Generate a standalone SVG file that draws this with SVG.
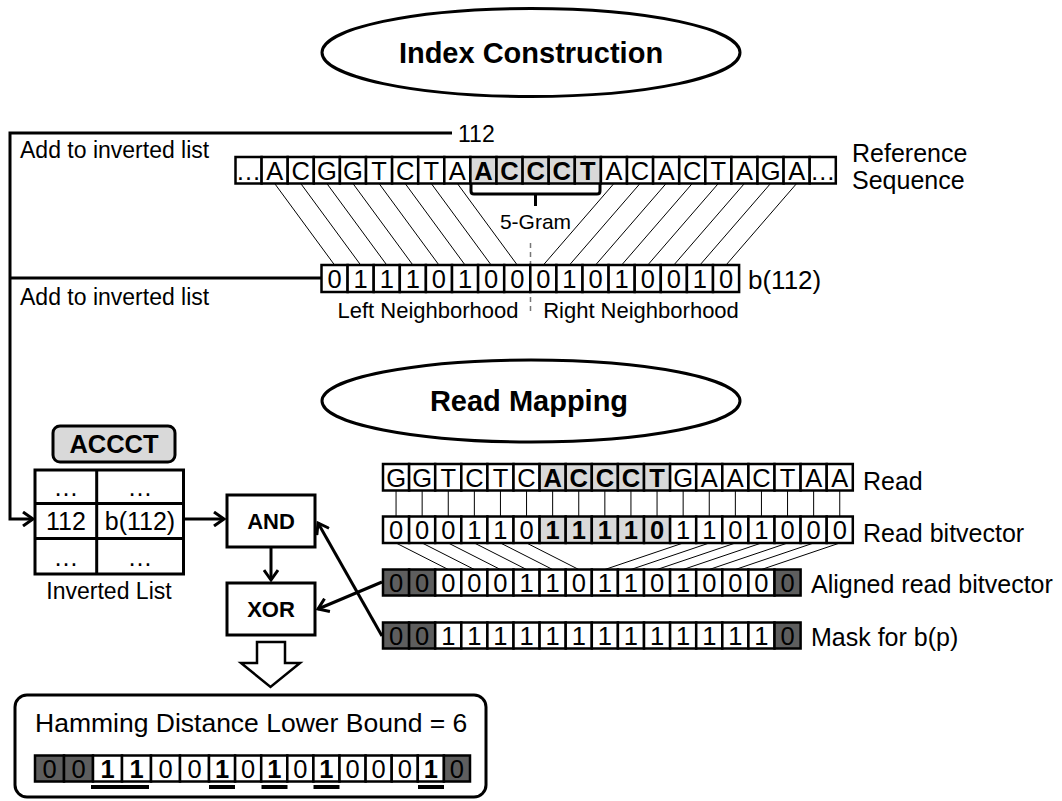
<svg xmlns="http://www.w3.org/2000/svg" width="1062" height="801" viewBox="0 0 1062 801">
  <style>
    text { font-family: "Liberation Sans", Arial, sans-serif; fill: #000; }
    .cell { fill: #fff; stroke: #000; stroke-width: 2.5; }
    .hl { fill: #d9d9d9; stroke: #000; stroke-width: 2.5; }
    .dk { fill: #5e5e5e; stroke: #000; stroke-width: 2.5; }
    .ct { font-size: 25.5px; text-anchor: middle; }
    .bt { font-size: 25.5px; text-anchor: middle; font-weight: bold; }
    .lbl { font-size: 25px; }
    .title { font-size: 29px; font-weight: bold; text-anchor: middle; }
    .thin { stroke: #000; stroke-width: 1; fill: none; }
    .thick { stroke: #000; stroke-width: 3; fill: none; }
    .box { fill: #fff; stroke: #000; stroke-width: 3; }
    .op { font-size: 22px; font-weight: bold; text-anchor: middle; }
    .tb { font-size: 25px; text-anchor: middle; }
    .ul { stroke: #000; stroke-width: 4; }
  </style>
  <defs>
    <marker id="arr" markerUnits="userSpaceOnUse" markerWidth="14" markerHeight="16" refX="11" refY="8" orient="auto">
      <path d="M1,1 L11,8 L1,15" fill="none" stroke="#000" stroke-width="3"/>
    </marker>
  </defs>

  <!-- section titles -->
  <g id="title-index">
    <ellipse cx="531" cy="52.5" rx="209" ry="44" fill="#fff" stroke="#000" stroke-width="3"/>
    <text class="title" x="531" y="63">Index Construction</text>
  </g>
  <g id="title-read">
    <ellipse cx="531" cy="401" rx="209" ry="41" fill="#fff" stroke="#000" stroke-width="3"/>
    <text class="title" x="529" y="411">Read Mapping</text>
  </g>

  <!-- connectors -->
  <g id="connectors">
    <!-- reference sequence to b(112) -->
    <path class="thin" d="M274.65,183.5 L334.55,265 M300.75,183.5 L360.65,265 M326.85,183.5 L386.75,265 M352.95,183.5 L412.85,265 M379.05,183.5 L438.95,265 M405.15,183.5 L465.05,265 M431.25,183.5 L491.15,265 M457.35,183.5 L517.25,265"/>
    <path class="thin" d="M613.95,183.5 L543.35,265 M640.05,183.5 L569.45,265 M666.15,183.5 L595.55,265 M692.25,183.5 L621.65,265 M718.35,183.5 L647.75,265 M744.45,183.5 L673.85,265 M770.55,183.5 L699.95,265 M796.65,183.5 L726.05,265"/>
    <!-- neighborhood divider -->
    <path d="M530.5,243 V313" stroke="#777" stroke-width="1.5" stroke-dasharray="5,4" fill="none"/>
    <!-- 5-gram brace -->
    <path class="thick" d="M471,184 V191 Q471,194 474,194 H597 Q600,194 600,191 V184 M535.5,194 V206"/>
    <!-- add to inverted list -->
    <path class="thick" d="M452,133 H10 V519 H33" marker-end="url(#arr)"/>
    <path class="thick" d="M10,278 H321.5"/>
    <!-- read to read bitvector -->
    <path class="thin" d="M396.05,490.5 V516.5 M422.15,490.5 V516.5 M448.25,490.5 V516.5 M474.35,490.5 V516.5 M500.45,490.5 V516.5 M526.55,490.5 V516.5 M552.65,490.5 V516.5 M578.75,490.5 V516.5 M604.85,490.5 V516.5 M630.95,490.5 V516.5 M657.05,490.5 V516.5 M683.15,490.5 V516.5 M709.25,490.5 V516.5 M735.35,490.5 V516.5 M761.45,490.5 V516.5 M787.55,490.5 V516.5 M813.65,490.5 V516.5 M839.75,490.5 V516.5"/>
    <!-- read bitvector to aligned read bitvector -->
    <path class="thin" d="M396.05,543 L448.25,569.5 M422.15,543 L474.35,569.5 M448.25,543 L500.45,569.5 M474.35,543 L526.55,569.5 M500.45,543 L552.65,569.5 M526.55,543 L578.75,569.5"/>
    <path class="thin" d="M683.15,543 L604.85,569.5 M709.25,543 L630.95,569.5 M735.35,543 L657.05,569.5 M761.45,543 L683.15,569.5 M787.55,543 L709.25,569.5 M813.65,543 L735.35,569.5 M839.75,543 L761.45,569.5"/>
    <!-- inverted list entry to AND -->
    <path class="thick" d="M183.5,519 H224" marker-end="url(#arr)"/>
    <!-- AND to XOR -->
    <path class="thick" d="M271,547 V580" marker-end="url(#arr)"/>
    <!-- aligned read bitvector to XOR -->
    <path class="thick" d="M382,582 L318,609" marker-end="url(#arr)"/>
    <!-- mask to AND -->
    <path class="thick" d="M382,636 L318,523" marker-end="url(#arr)"/>
    <!-- result arrow -->
    <path d="M257,642 H285 V663 H300 L270.5,687 L241,663 H257 Z" fill="#fff" stroke="#000" stroke-width="2.5"/>
  </g>

  <!-- reference sequence -->
  <g id="reference-sequence">
    <rect class="cell" x="235.5" y="157" width="26.1" height="26.5"/>
    <rect class="cell" x="261.6" y="157" width="26.1" height="26.5"/>
    <rect class="cell" x="287.7" y="157" width="26.1" height="26.5"/>
    <rect class="cell" x="313.8" y="157" width="26.1" height="26.5"/>
    <rect class="cell" x="339.9" y="157" width="26.1" height="26.5"/>
    <rect class="cell" x="366.0" y="157" width="26.1" height="26.5"/>
    <rect class="cell" x="392.1" y="157" width="26.1" height="26.5"/>
    <rect class="cell" x="418.2" y="157" width="26.1" height="26.5"/>
    <rect class="cell" x="444.3" y="157" width="26.1" height="26.5"/>
    <rect class="hl" x="470.4" y="157" width="26.1" height="26.5"/>
    <rect class="hl" x="496.5" y="157" width="26.1" height="26.5"/>
    <rect class="hl" x="522.6" y="157" width="26.1" height="26.5"/>
    <rect class="hl" x="548.7" y="157" width="26.1" height="26.5"/>
    <rect class="hl" x="574.8" y="157" width="26.1" height="26.5"/>
    <rect class="cell" x="600.9" y="157" width="26.1" height="26.5"/>
    <rect class="cell" x="627.0" y="157" width="26.1" height="26.5"/>
    <rect class="cell" x="653.1" y="157" width="26.1" height="26.5"/>
    <rect class="cell" x="679.2" y="157" width="26.1" height="26.5"/>
    <rect class="cell" x="705.3" y="157" width="26.1" height="26.5"/>
    <rect class="cell" x="731.4" y="157" width="26.1" height="26.5"/>
    <rect class="cell" x="757.5" y="157" width="26.1" height="26.5"/>
    <rect class="cell" x="783.6" y="157" width="26.1" height="26.5"/>
    <rect class="cell" x="809.7" y="157" width="26.1" height="26.5"/>
    <text class="ct" x="248.55" y="179.5">…</text>
    <text class="ct" x="274.65" y="179.5">A</text>
    <text class="ct" x="300.75" y="179.5">C</text>
    <text class="ct" x="326.85" y="179.5">G</text>
    <text class="ct" x="352.95" y="179.5">G</text>
    <text class="ct" x="379.05" y="179.5">T</text>
    <text class="ct" x="405.15" y="179.5">C</text>
    <text class="ct" x="431.25" y="179.5">T</text>
    <text class="ct" x="457.35" y="179.5">A</text>
    <text class="bt" x="483.45" y="179.5">A</text>
    <text class="bt" x="509.55" y="179.5">C</text>
    <text class="bt" x="535.65" y="179.5">C</text>
    <text class="bt" x="561.75" y="179.5">C</text>
    <text class="bt" x="587.85" y="179.5">T</text>
    <text class="ct" x="613.95" y="179.5">A</text>
    <text class="ct" x="640.05" y="179.5">C</text>
    <text class="ct" x="666.15" y="179.5">A</text>
    <text class="ct" x="692.25" y="179.5">C</text>
    <text class="ct" x="718.35" y="179.5">T</text>
    <text class="ct" x="744.45" y="179.5">A</text>
    <text class="ct" x="770.55" y="179.5">G</text>
    <text class="ct" x="796.65" y="179.5">A</text>
    <text class="ct" x="822.75" y="179.5">…</text>
    <text class="lbl" x="852" y="162">Reference</text>
    <text class="lbl" x="852" y="189">Sequence</text>
    <text x="535.5" y="229" style="font-size:21px" text-anchor="middle">5-Gram</text>
  </g>

  <g id="index-labels">
    <text class="lbl" x="458" y="142" style="font-size:23px">112</text>
    <text class="lbl" x="20" y="158" style="font-size:23px">Add to inverted list</text>
    <text class="lbl" x="20" y="305" style="font-size:23px">Add to inverted list</text>
  </g>

  <!-- bitvector of position 112 -->
  <g id="bitvector-112">
    <rect class="cell" x="321.5" y="265" width="26.1" height="27"/>
    <rect class="cell" x="347.6" y="265" width="26.1" height="27"/>
    <rect class="cell" x="373.7" y="265" width="26.1" height="27"/>
    <rect class="cell" x="399.8" y="265" width="26.1" height="27"/>
    <rect class="cell" x="425.9" y="265" width="26.1" height="27"/>
    <rect class="cell" x="452.0" y="265" width="26.1" height="27"/>
    <rect class="cell" x="478.1" y="265" width="26.1" height="27"/>
    <rect class="cell" x="504.2" y="265" width="26.1" height="27"/>
    <rect class="cell" x="530.3" y="265" width="26.1" height="27"/>
    <rect class="cell" x="556.4" y="265" width="26.1" height="27"/>
    <rect class="cell" x="582.5" y="265" width="26.1" height="27"/>
    <rect class="cell" x="608.6" y="265" width="26.1" height="27"/>
    <rect class="cell" x="634.7" y="265" width="26.1" height="27"/>
    <rect class="cell" x="660.8" y="265" width="26.1" height="27"/>
    <rect class="cell" x="686.9" y="265" width="26.1" height="27"/>
    <rect class="cell" x="713.0" y="265" width="26.1" height="27"/>
    <text class="ct" x="334.55" y="287.5">0</text>
    <text class="ct" x="360.65" y="287.5">1</text>
    <text class="ct" x="386.75" y="287.5">1</text>
    <text class="ct" x="412.85" y="287.5">1</text>
    <text class="ct" x="438.95" y="287.5">0</text>
    <text class="ct" x="465.05" y="287.5">1</text>
    <text class="ct" x="491.15" y="287.5">0</text>
    <text class="ct" x="517.25" y="287.5">0</text>
    <text class="ct" x="543.35" y="287.5">0</text>
    <text class="ct" x="569.45" y="287.5">1</text>
    <text class="ct" x="595.55" y="287.5">0</text>
    <text class="ct" x="621.65" y="287.5">1</text>
    <text class="ct" x="647.75" y="287.5">0</text>
    <text class="ct" x="673.85" y="287.5">0</text>
    <text class="ct" x="699.95" y="287.5">1</text>
    <text class="ct" x="726.05" y="287.5">0</text>
    <text class="lbl" x="748" y="289" style="font-size:26px">b(112)</text>
    <text x="428" y="318" style="font-size:22px" text-anchor="middle">Left Neighborhood</text>
    <text x="641" y="318" style="font-size:22px" text-anchor="middle">Right Neighborhood</text>
  </g>

  <!-- inverted list -->
  <g id="inverted-list">
    <rect x="53" y="426" width="122" height="36" rx="7" fill="#d9d9d9" stroke="#000" stroke-width="3"/>
    <text class="bt" x="114" y="452.5">ACCCT</text>
    <rect class="box" x="35" y="470" width="148.5" height="104"/>
    <path class="thick" d="M96.7,470 V574 M35,503.5 H183.5 M35,538.5 H183.5"/>
    <text class="tb" x="66" y="496">…</text>
    <text class="tb" x="140" y="496">…</text>
    <text class="tb" x="66" y="530">112</text>
    <text class="tb" x="140" y="530">b(112)</text>
    <text class="tb" x="66" y="566">…</text>
    <text class="tb" x="140" y="566">…</text>
    <text x="109" y="599" style="font-size:23px" text-anchor="middle">Inverted List</text>
  </g>

  <g id="and-op">
    <rect class="box" x="227" y="495" width="88" height="52"/>
    <text class="op" x="271" y="528.5">AND</text>
  </g>
  <g id="xor-op">
    <rect class="box" x="227" y="583" width="88" height="52"/>
    <text class="op" x="271" y="616.5">XOR</text>
  </g>

  <!-- read -->
  <g id="read">
    <rect class="cell" x="383.0" y="464" width="26.1" height="26.5"/>
    <rect class="cell" x="409.1" y="464" width="26.1" height="26.5"/>
    <rect class="cell" x="435.2" y="464" width="26.1" height="26.5"/>
    <rect class="cell" x="461.3" y="464" width="26.1" height="26.5"/>
    <rect class="cell" x="487.4" y="464" width="26.1" height="26.5"/>
    <rect class="cell" x="513.5" y="464" width="26.1" height="26.5"/>
    <rect class="hl" x="539.6" y="464" width="26.1" height="26.5"/>
    <rect class="hl" x="565.7" y="464" width="26.1" height="26.5"/>
    <rect class="hl" x="591.8" y="464" width="26.1" height="26.5"/>
    <rect class="hl" x="617.9" y="464" width="26.1" height="26.5"/>
    <rect class="hl" x="644.0" y="464" width="26.1" height="26.5"/>
    <rect class="cell" x="670.1" y="464" width="26.1" height="26.5"/>
    <rect class="cell" x="696.2" y="464" width="26.1" height="26.5"/>
    <rect class="cell" x="722.3" y="464" width="26.1" height="26.5"/>
    <rect class="cell" x="748.4" y="464" width="26.1" height="26.5"/>
    <rect class="cell" x="774.5" y="464" width="26.1" height="26.5"/>
    <rect class="cell" x="800.6" y="464" width="26.1" height="26.5"/>
    <rect class="cell" x="826.7" y="464" width="26.1" height="26.5"/>
    <text class="ct" x="396.05" y="486.5">G</text>
    <text class="ct" x="422.15" y="486.5">G</text>
    <text class="ct" x="448.25" y="486.5">T</text>
    <text class="ct" x="474.35" y="486.5">C</text>
    <text class="ct" x="500.45" y="486.5">T</text>
    <text class="ct" x="526.55" y="486.5">C</text>
    <text class="bt" x="552.65" y="486.5">A</text>
    <text class="bt" x="578.75" y="486.5">C</text>
    <text class="bt" x="604.85" y="486.5">C</text>
    <text class="bt" x="630.95" y="486.5">C</text>
    <text class="bt" x="657.05" y="486.5">T</text>
    <text class="ct" x="683.15" y="486.5">G</text>
    <text class="ct" x="709.25" y="486.5">A</text>
    <text class="ct" x="735.35" y="486.5">A</text>
    <text class="ct" x="761.45" y="486.5">C</text>
    <text class="ct" x="787.55" y="486.5">T</text>
    <text class="ct" x="813.65" y="486.5">A</text>
    <text class="ct" x="839.75" y="486.5">A</text>
    <text class="lbl" x="863" y="490">Read</text>
  </g>

  <g id="read-bitvector">
    <rect class="cell" x="383.0" y="516.5" width="26.1" height="26.5"/>
    <rect class="cell" x="409.1" y="516.5" width="26.1" height="26.5"/>
    <rect class="cell" x="435.2" y="516.5" width="26.1" height="26.5"/>
    <rect class="cell" x="461.3" y="516.5" width="26.1" height="26.5"/>
    <rect class="cell" x="487.4" y="516.5" width="26.1" height="26.5"/>
    <rect class="cell" x="513.5" y="516.5" width="26.1" height="26.5"/>
    <rect class="hl" x="539.6" y="516.5" width="26.1" height="26.5"/>
    <rect class="hl" x="565.7" y="516.5" width="26.1" height="26.5"/>
    <rect class="hl" x="591.8" y="516.5" width="26.1" height="26.5"/>
    <rect class="hl" x="617.9" y="516.5" width="26.1" height="26.5"/>
    <rect class="hl" x="644.0" y="516.5" width="26.1" height="26.5"/>
    <rect class="cell" x="670.1" y="516.5" width="26.1" height="26.5"/>
    <rect class="cell" x="696.2" y="516.5" width="26.1" height="26.5"/>
    <rect class="cell" x="722.3" y="516.5" width="26.1" height="26.5"/>
    <rect class="cell" x="748.4" y="516.5" width="26.1" height="26.5"/>
    <rect class="cell" x="774.5" y="516.5" width="26.1" height="26.5"/>
    <rect class="cell" x="800.6" y="516.5" width="26.1" height="26.5"/>
    <rect class="cell" x="826.7" y="516.5" width="26.1" height="26.5"/>
    <text class="ct" x="396.05" y="539">0</text>
    <text class="ct" x="422.15" y="539">0</text>
    <text class="ct" x="448.25" y="539">0</text>
    <text class="ct" x="474.35" y="539">1</text>
    <text class="ct" x="500.45" y="539">1</text>
    <text class="ct" x="526.55" y="539">0</text>
    <text class="bt" x="552.65" y="539">1</text>
    <text class="bt" x="578.75" y="539">1</text>
    <text class="bt" x="604.85" y="539">1</text>
    <text class="bt" x="630.95" y="539">1</text>
    <text class="bt" x="657.05" y="539">0</text>
    <text class="ct" x="683.15" y="539">1</text>
    <text class="ct" x="709.25" y="539">1</text>
    <text class="ct" x="735.35" y="539">0</text>
    <text class="ct" x="761.45" y="539">1</text>
    <text class="ct" x="787.55" y="539">0</text>
    <text class="ct" x="813.65" y="539">0</text>
    <text class="ct" x="839.75" y="539">0</text>
    <text class="lbl" x="863" y="542">Read bitvector</text>
  </g>

  <g id="aligned-read-bitvector">
    <rect class="dk" x="383.0" y="569.5" width="26.1" height="26"/>
    <rect class="dk" x="409.1" y="569.5" width="26.1" height="26"/>
    <rect class="cell" x="435.2" y="569.5" width="26.1" height="26"/>
    <rect class="cell" x="461.3" y="569.5" width="26.1" height="26"/>
    <rect class="cell" x="487.4" y="569.5" width="26.1" height="26"/>
    <rect class="cell" x="513.5" y="569.5" width="26.1" height="26"/>
    <rect class="cell" x="539.6" y="569.5" width="26.1" height="26"/>
    <rect class="cell" x="565.7" y="569.5" width="26.1" height="26"/>
    <rect class="cell" x="591.8" y="569.5" width="26.1" height="26"/>
    <rect class="cell" x="617.9" y="569.5" width="26.1" height="26"/>
    <rect class="cell" x="644.0" y="569.5" width="26.1" height="26"/>
    <rect class="cell" x="670.1" y="569.5" width="26.1" height="26"/>
    <rect class="cell" x="696.2" y="569.5" width="26.1" height="26"/>
    <rect class="cell" x="722.3" y="569.5" width="26.1" height="26"/>
    <rect class="cell" x="748.4" y="569.5" width="26.1" height="26"/>
    <rect class="dk" x="774.5" y="569.5" width="26.1" height="26"/>
    <text class="ct" x="396.05" y="591.5">0</text>
    <text class="ct" x="422.15" y="591.5">0</text>
    <text class="ct" x="448.25" y="591.5">0</text>
    <text class="ct" x="474.35" y="591.5">0</text>
    <text class="ct" x="500.45" y="591.5">0</text>
    <text class="ct" x="526.55" y="591.5">1</text>
    <text class="ct" x="552.65" y="591.5">1</text>
    <text class="ct" x="578.75" y="591.5">0</text>
    <text class="ct" x="604.85" y="591.5">1</text>
    <text class="ct" x="630.95" y="591.5">1</text>
    <text class="ct" x="657.05" y="591.5">0</text>
    <text class="ct" x="683.15" y="591.5">1</text>
    <text class="ct" x="709.25" y="591.5">0</text>
    <text class="ct" x="735.35" y="591.5">0</text>
    <text class="ct" x="761.45" y="591.5">0</text>
    <text class="ct" x="787.55" y="591.5">0</text>
    <text class="lbl" x="811" y="593">Aligned read bitvector</text>
  </g>

  <g id="mask">
    <rect class="dk" x="383.0" y="622.5" width="26.1" height="26"/>
    <rect class="dk" x="409.1" y="622.5" width="26.1" height="26"/>
    <rect class="cell" x="435.2" y="622.5" width="26.1" height="26"/>
    <rect class="cell" x="461.3" y="622.5" width="26.1" height="26"/>
    <rect class="cell" x="487.4" y="622.5" width="26.1" height="26"/>
    <rect class="cell" x="513.5" y="622.5" width="26.1" height="26"/>
    <rect class="cell" x="539.6" y="622.5" width="26.1" height="26"/>
    <rect class="cell" x="565.7" y="622.5" width="26.1" height="26"/>
    <rect class="cell" x="591.8" y="622.5" width="26.1" height="26"/>
    <rect class="cell" x="617.9" y="622.5" width="26.1" height="26"/>
    <rect class="cell" x="644.0" y="622.5" width="26.1" height="26"/>
    <rect class="cell" x="670.1" y="622.5" width="26.1" height="26"/>
    <rect class="cell" x="696.2" y="622.5" width="26.1" height="26"/>
    <rect class="cell" x="722.3" y="622.5" width="26.1" height="26"/>
    <rect class="cell" x="748.4" y="622.5" width="26.1" height="26"/>
    <rect class="dk" x="774.5" y="622.5" width="26.1" height="26"/>
    <text class="ct" x="396.05" y="644.5">0</text>
    <text class="ct" x="422.15" y="644.5">0</text>
    <text class="ct" x="448.25" y="644.5">1</text>
    <text class="ct" x="474.35" y="644.5">1</text>
    <text class="ct" x="500.45" y="644.5">1</text>
    <text class="ct" x="526.55" y="644.5">1</text>
    <text class="ct" x="552.65" y="644.5">1</text>
    <text class="ct" x="578.75" y="644.5">1</text>
    <text class="ct" x="604.85" y="644.5">1</text>
    <text class="ct" x="630.95" y="644.5">1</text>
    <text class="ct" x="657.05" y="644.5">1</text>
    <text class="ct" x="683.15" y="644.5">1</text>
    <text class="ct" x="709.25" y="644.5">1</text>
    <text class="ct" x="735.35" y="644.5">1</text>
    <text class="ct" x="761.45" y="644.5">1</text>
    <text class="ct" x="787.55" y="644.5">0</text>
    <text class="lbl" x="811" y="646">Mask for b(p)</text>
  </g>

  <!-- result: wider cells on the left, regular cells from position 6 on -->
  <g id="result">
    <rect x="15" y="695" width="471" height="102" rx="12" fill="#fff" stroke="#000" stroke-width="3"/>
    <text class="lbl" x="35" y="732" style="font-size:26.5px">Hamming Distance Lower Bound = 6</text>
    <rect class="dk" x="35" y="755.5" width="29" height="26"/>
    <rect class="dk" x="64" y="755.5" width="29" height="26"/>
    <rect class="cell" x="93" y="755.5" width="29" height="26"/>
    <rect class="cell" x="122" y="755.5" width="29" height="26"/>
    <rect class="cell" x="151" y="755.5" width="29" height="26"/>
    <rect class="cell" x="180" y="755.5" width="29" height="26"/>
    <rect class="cell" x="209.0" y="755.5" width="26.1" height="26"/>
    <rect class="cell" x="235.1" y="755.5" width="26.1" height="26"/>
    <rect class="cell" x="261.2" y="755.5" width="26.1" height="26"/>
    <rect class="cell" x="287.3" y="755.5" width="26.1" height="26"/>
    <rect class="cell" x="313.4" y="755.5" width="26.1" height="26"/>
    <rect class="cell" x="339.5" y="755.5" width="26.1" height="26"/>
    <rect class="cell" x="365.6" y="755.5" width="26.1" height="26"/>
    <rect class="cell" x="391.7" y="755.5" width="26.1" height="26"/>
    <rect class="cell" x="417.8" y="755.5" width="26.1" height="26"/>
    <rect class="dk" x="443.9" y="755.5" width="26.1" height="26"/>
    <text class="ct" x="49.5" y="777.5">0</text>
    <text class="ct" x="78.5" y="777.5">0</text>
    <text class="bt" x="107.5" y="777.5">1</text>
    <text class="bt" x="136.5" y="777.5">1</text>
    <text class="ct" x="165.5" y="777.5">0</text>
    <text class="ct" x="194.5" y="777.5">0</text>
    <text class="bt" x="222.05" y="777.5">1</text>
    <text class="ct" x="248.15" y="777.5">0</text>
    <text class="bt" x="274.25" y="777.5">1</text>
    <text class="ct" x="300.35" y="777.5">0</text>
    <text class="bt" x="326.45" y="777.5">1</text>
    <text class="ct" x="352.55" y="777.5">0</text>
    <text class="ct" x="378.65" y="777.5">0</text>
    <text class="ct" x="404.75" y="777.5">0</text>
    <text class="bt" x="430.85" y="777.5">1</text>
    <text class="ct" x="456.95" y="777.5">0</text>
    <path class="ul" d="M91,787 H149 M209,787 H235 M261.5,787 H287.5 M313.5,787 H339.5 M418,787 H444"/>
  </g>
</svg>
